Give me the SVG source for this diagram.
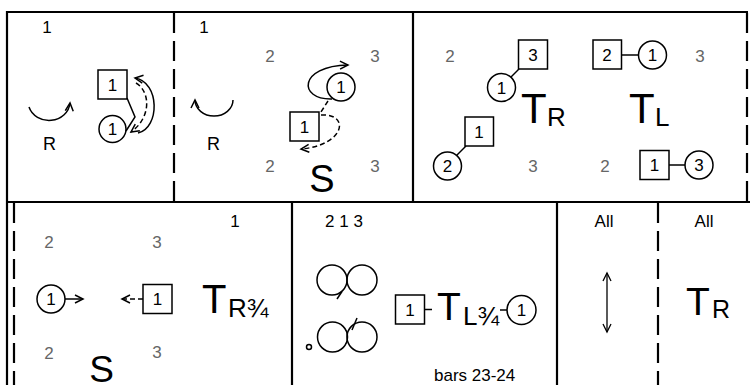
<svg xmlns="http://www.w3.org/2000/svg" width="750" height="385" viewBox="0 0 750 385">
<defs>
<marker id="ah" markerUnits="userSpaceOnUse" markerWidth="10" markerHeight="10" refX="8" refY="4" orient="auto" overflow="visible">
<path d="M0,0 L8,4 L0,8" fill="none" stroke="#000" stroke-width="1.5"/>
</marker>
<marker id="ahs" markerUnits="userSpaceOnUse" markerWidth="10" markerHeight="10" refX="8" refY="4" orient="auto-start-reverse" overflow="visible">
<path d="M0,0 L8,4 L0,8" fill="none" stroke="#000" stroke-width="1.3"/>
</marker>
</defs>
<style>
text{font-family:"Liberation Sans",Arial,sans-serif;fill:#000}
.lab{font-size:17px;text-anchor:middle}
.g{fill:#666}
.in{font-size:17px;text-anchor:middle}
.rl{font-size:18px;text-anchor:middle}
.big{font-size:42px}
.sub{font-size:26px}
.sh{fill:#fff;stroke:#000;stroke-width:1.5}
.ln{fill:none;stroke:#000;stroke-width:1.5}
.dl{fill:none;stroke:#000;stroke-width:1.5;stroke-dasharray:5 3}
.b{stroke:#000;stroke-width:2.2;fill:none}
.bd{stroke:#000;stroke-width:2.2;fill:none;stroke-dasharray:20 8}
</style>
<rect width="750" height="385" fill="#fff"/>

<g id="frame">
<line class="b" x1="6" y1="12" x2="748" y2="12"/>
<line class="b" x1="7" y1="11" x2="7" y2="385"/>
<line class="b" x1="6" y1="202" x2="750" y2="202"/>
<line class="bd" x1="174" y1="13" x2="174" y2="202"/>
<line class="b" x1="413" y1="12" x2="413" y2="202"/>
<line class="bd" x1="747" y1="13" x2="747" y2="202"/>
<line class="bd" x1="14" y1="203" x2="14" y2="385"/>
<line class="b" x1="292" y1="202" x2="292" y2="385"/>
<line class="b" x1="557" y1="202" x2="557" y2="385"/>
<line class="bd" x1="658" y1="203" x2="658" y2="385"/>
</g>

<g id="panel1">
<text class="lab" x="47" y="33">1</text>
<path class="ln" d="M29,107 A21,19 0 0 0 70,103" marker-end="url(#ah)"/>
<text class="rl" x="49.5" y="150">R</text>
<g id="p1-sq"><rect class="sh" x="98" y="70" width="29" height="29"/><text class="in" x="112.5" y="91">1</text></g>
<g id="p1-ci"><circle class="sh" cx="112.5" cy="129" r="13.5"/><text class="in" x="112.5" y="135">1</text></g>
<g id="p1-conn">
<path class="ln" d="M127,98 L135,117 L126,131"/>
<path class="ln" d="M138,133 C160,128 160,82 135,78" marker-end="url(#ah)"/>
<path class="dl" d="M136,83 C151,92 151,118 131,132" marker-end="url(#ah)"/>
</g>
</g>

<g id="panel2">
<text class="lab" x="204" y="33">1</text>
<text class="lab g" x="270" y="62">2</text>
<text class="lab g" x="375" y="62">3</text>
<text class="lab g" x="270" y="172">2</text>
<text class="lab g" x="375" y="172">3</text>
<path class="ln" d="M233,100 A19,16 0 0 1 195,100" marker-end="url(#ah)"/>
<text class="rl" x="213.5" y="150">R</text>
<g id="p2-ci"><circle class="sh" cx="341" cy="87" r="14"/><text class="in" x="341" y="93">1</text></g>
<g id="p2-sq"><rect class="sh" x="290" y="112" width="29" height="29"/><text class="in" x="304.5" y="133">1</text></g>
<g id="p2-conn">
<path class="ln" d="M332,99 C298,100 298,66 348,65" marker-end="url(#ah)"/>
<path class="dl" d="M328,101 L321,112"/>
<path class="dl" d="M321,115 C350,113 346,145 301,149" marker-end="url(#ah)"/>
</g>
<text x="322" y="192" style="font-size:38px;text-anchor:middle">S</text>
</g>

<g id="panel3">
<text class="lab g" x="450" y="62">2</text>
<text class="lab g" x="700" y="62">3</text>
<text class="lab g" x="533" y="172">3</text>
<text class="lab g" x="605" y="172">2</text>
<line class="ln" x1="511" y1="77" x2="519" y2="69"/>
<g id="p3-sq3"><rect class="sh" x="518.5" y="40" width="29" height="29"/><text class="in" x="533" y="61">3</text></g>
<g id="p3-ci1"><circle class="sh" cx="501.5" cy="87.5" r="14"/><text class="in" x="501.5" y="93.5">1</text></g>
<line class="ln" x1="621" y1="55" x2="638.5" y2="55"/>
<g id="p3-sq2"><rect class="sh" x="593" y="40" width="28.5" height="29"/><text class="in" x="607" y="61">2</text></g>
<g id="p3-ci1b"><circle class="sh" cx="652.5" cy="55" r="14"/><text class="in" x="652.5" y="61">1</text></g>
<line class="ln" x1="456" y1="156" x2="466" y2="146"/>
<g id="p3-sq1"><rect class="sh" x="465" y="117" width="28.5" height="29"/><text class="in" x="479" y="138">1</text></g>
<g id="p3-ci2"><circle class="sh" cx="447.5" cy="166" r="14"/><text class="in" x="447.5" y="172">2</text></g>
<line class="ln" x1="669" y1="165" x2="685" y2="165"/>
<g id="p3-sq1b"><rect class="sh" x="640" y="150.5" width="29" height="29"/><text class="in" x="654.5" y="171">1</text></g>
<g id="p3-ci3"><circle class="sh" cx="699" cy="165" r="14"/><text class="in" x="699" y="171">3</text></g>
<text class="big" x="521" y="123">T</text><text class="sub" x="547" y="126">R</text>
<text class="big" x="629" y="123">T</text><text class="sub" x="655" y="126">L</text>
</g>

<g id="panel4">
<text class="lab" x="235" y="227">1</text>
<text class="lab g" x="49" y="248">2</text>
<text class="lab g" x="157" y="248">3</text>
<text class="lab g" x="49" y="359">2</text>
<text class="lab g" x="157" y="358">3</text>
<g id="p4-ci"><circle class="sh" cx="51" cy="299" r="14"/><text class="in" x="51" y="305">1</text></g>
<line class="ln" x1="65" y1="299" x2="83" y2="299" marker-end="url(#ah)"/>
<line class="dl" x1="143" y1="299" x2="122" y2="299" marker-end="url(#ah)"/>
<g id="p4-sq"><rect class="sh" x="143" y="284.5" width="29" height="29"/><text class="in" x="157.5" y="305">1</text></g>
<text x="202" y="313" style="font-size:40px">T</text><text class="sub" x="228" y="317">R¾</text>
<text x="101.5" y="382" style="font-size:37px;text-anchor:middle">S</text>
</g>

<g id="panel5">
<text class="lab" x="344" y="227">2 1 3</text>
<circle class="ln" cx="332" cy="280" r="15"/>
<circle class="ln" cx="362" cy="280" r="15"/>
<line class="ln" x1="337" y1="299" x2="342" y2="291.5"/>
<circle class="ln" cx="332.5" cy="337" r="15"/>
<circle class="ln" cx="362" cy="337" r="15"/>
<line class="ln" x1="352" y1="330" x2="357" y2="318"/>
<circle class="ln" cx="309" cy="347" r="2.5"/>
<g id="p5-sq"><rect class="sh" x="395.5" y="295" width="29" height="29"/><text class="in" x="410" y="316">1</text></g>
<line class="ln" x1="425" y1="309.5" x2="432" y2="309.5"/>
<text x="437" y="320" style="font-size:39px">T</text><text class="sub" x="463" y="325">L¾</text>
<line class="ln" x1="500" y1="310" x2="507" y2="310"/>
<g id="p5-ci"><circle class="sh" cx="521.5" cy="310" r="14.5"/><text class="in" x="521.5" y="316">1</text></g>
<text x="434" y="381" style="font-size:17px">bars 23-24</text>
</g>

<g id="panel6">
<text class="lab" x="604" y="227">All</text>
<line class="ln" x1="607" y1="273" x2="607" y2="332" style="stroke-width:1.3" marker-start="url(#ahs)" marker-end="url(#ahs)"/>
</g>

<g id="panel7">
<text class="lab" x="704" y="227">All</text>
<text x="686" y="315" style="font-size:39px">T</text><text x="712" y="318" style="font-size:25px">R</text>
</g>
</svg>
